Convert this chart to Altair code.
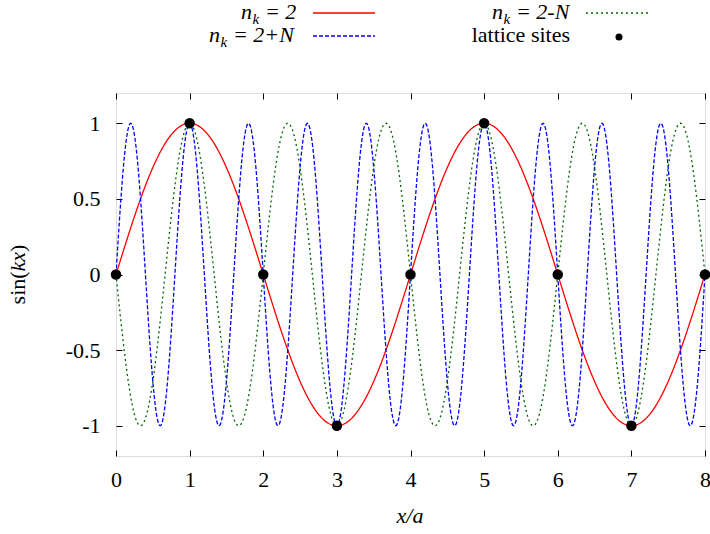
import altair as alt
import pandas as pd

# ---- data ----
series_names = ["n_k = 2", "n_k = 2+N", "n_k = 2-N"]
k_over_pi = [0.5, 2.5, -1.5]          # wave number k*a/pi for each curve
series_colors = ["#ff0000", "#0000ff", "#006400"]
series_dash = [[1, 0], [4, 2], [2, 3]]

site_x = [0, 1, 2, 3, 4, 5, 6, 7, 8]
site_y = [0, 1, 0, -1, 0, 1, 0, -1, 0]

x_ticks = [0, 1, 2, 3, 4, 5, 6, 7, 8]
y_ticks = [-1, -0.5, 0, 0.5, 1]
x_domain = [0, 8]
y_domain = [-1.2, 1.2]

W, H = 589, 363
FONT = "Liberation Serif"
FS = 22

xs = alt.Scale(domain=x_domain, nice=False, zero=False)
ys = alt.Scale(domain=y_domain, nice=False, zero=False)

sites = pd.DataFrame({"x": site_x, "y": site_y})

layers = []

# curves
for name, k, col, dash in zip(series_names, k_over_pi, series_colors, series_dash):
    c = (
        alt.Chart(alt.sequence(0, 8.0001, 0.01, as_="x"))
        .transform_calculate(y=f"sin({k}*PI*datum.x)")
        .mark_line(color=col, strokeWidth=1.3, strokeDash=dash, clip=True)
        .encode(
            x=alt.X("x:Q", scale=xs, axis=None),
            y=alt.Y("y:Q", scale=ys, axis=None),
        )
    )
    layers.append(c)

# lattice sites with bottom/left axes
pts = (
    alt.Chart(sites)
    .mark_point(filled=True, color="black", size=110, opacity=1)
    .encode(
        x=alt.X(
            "x:Q", scale=xs,
            axis=alt.Axis(orient="bottom", values=x_ticks, title=None, grid=False,
                          domain=False, tickSize=6, offset=-6, tickColor="black",
                          labelPadding=13, labelFont=FONT, labelFontSize=FS,
                          labelColor="black", labelExpr="toString(datum.value)",
                          labelFlush=False),
        ),
        y=alt.Y(
            "y:Q", scale=ys,
            axis=alt.Axis(orient="left", values=y_ticks, title=None, grid=False,
                          domain=False, tickSize=6, offset=-6, tickColor="black",
                          labelPadding=16, labelFont=FONT, labelFontSize=FS,
                          labelColor="black", labelExpr="toString(datum.value)",
                          labelFlush=False),
        ),
    )
)

# mirrored ticks on top/right
mirror = (
    alt.Chart(sites)
    .mark_point(opacity=0)
    .encode(
        x=alt.X("x:Q", scale=xs,
                axis=alt.Axis(orient="top", values=x_ticks, title=None, grid=False,
                              domain=False, tickSize=6, offset=-6, tickColor="black",
                              labels=False)),
        y=alt.Y("y:Q", scale=ys,
                axis=alt.Axis(orient="right", values=y_ticks, title=None, grid=False,
                              domain=False, tickSize=6, offset=-6, tickColor="black",
                              labels=False)),
    )
)

one = pd.DataFrame({"d": [0]})


def txt(t, x, y, size=FS, style="italic", align="left", angle=0, baseline="alphabetic"):
    kw = dict(font=FONT, fontSize=size, fontStyle=style, align=align,
              baseline=baseline, color="black")
    if angle:
        kw["angle"] = angle
    return alt.Chart(one).mark_text(**kw).encode(
        x=alt.value(x), y=alt.value(y), text=alt.value(t))


def rule(x1, x2, y, col, dash):
    return alt.Chart(one).mark_rule(color=col, strokeWidth=1.3, strokeDash=dash).encode(
        x=alt.value(x1), x2=alt.value(x2), y=alt.value(y))


ox, oy = 116, 93  # plot origin in page pixels
deco = []
# legend column 1
for (x0, yb, rest, col, dash) in [(241, 19, "= 2", series_colors[0], series_dash[0]),
                                  (209, 42, "= 2+N", series_colors[1], series_dash[1])]:
    deco.append(txt("n", x0 - ox, yb - oy))
    deco.append(txt("k", x0 + 11.5 - ox, yb + 5 - oy, size=15))
    deco.append(txt(rest, x0 + 24 - ox, yb - oy))
    deco.append(rule(313 - ox, 375 - ox, yb - 6 - oy, col, dash))
# legend column 2
x0, yb = 492, 19
deco.append(txt("n", x0 - ox, yb - oy))
deco.append(txt("k", x0 + 11.5 - ox, yb + 5 - oy, size=15))
deco.append(txt("= 2-N", x0 + 24 - ox, yb - oy))
deco.append(rule(586 - ox, 650 - ox, yb - 6 - oy, series_colors[2], series_dash[2]))
deco.append(txt("lattice sites", 570 - ox, 42 - oy, style="normal", align="right"))
deco.append(
    alt.Chart(one).mark_point(filled=True, color="black", size=50, opacity=1).encode(
        x=alt.value(619 - ox), y=alt.value(37 - oy))
)

# axis titles
deco.append(txt("x/a", 410 - ox, 523 - oy, align="center"))
cy = 274.5
seg = [("sin(", "normal", 33), ("kx", "italic", 19.5), (")", "normal", 7.3)]
start = cy + sum(s[2] for s in seg) / 2
pos = start
for t, st, w in seg:
    deco.append(txt(t, 18 - ox, pos - oy, style=st, angle=270, baseline="middle"))
    pos -= w

chart = (
    alt.layer(*layers, pts, mirror, *deco)
    .resolve_axis(x="independent", y="independent")
    .properties(
        width=W, height=H,
        autosize=alt.AutoSizeParams(type="none"),
        padding={"left": ox, "top": oy, "right": 710 - ox - W, "bottom": 534 - oy - H},
    )
    .configure_view(stroke="black", strokeWidth=1)
    .configure(background="white")
)

chart.save("out.html", embed_options={"renderer": "svg", "actions": False})
